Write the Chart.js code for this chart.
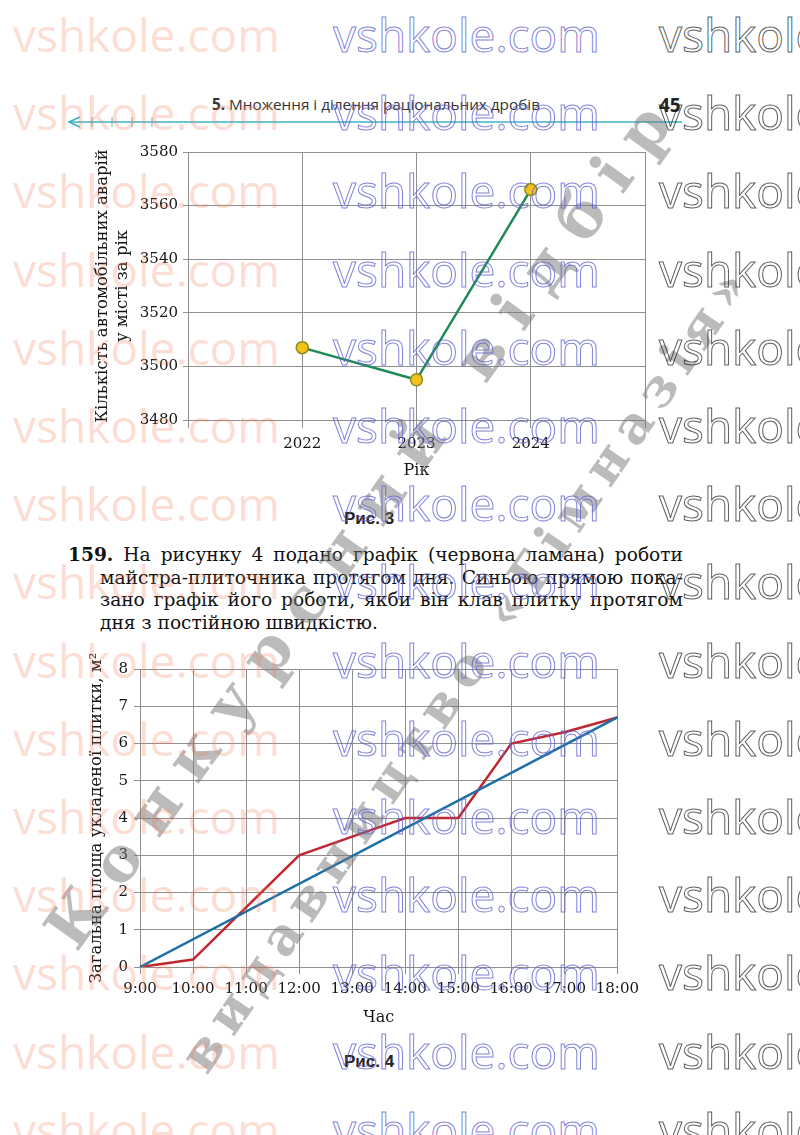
<!DOCTYPE html>
<html lang="uk">
<head>
<meta charset="utf-8">
<script src="https://cdn.jsdelivr.net/npm/chart.js@4.4.1/dist/chart.umd.min.js"></script>
<style>
html, body { margin: 0; padding: 0; background: #fff; }
body { width: 800px; height: 1135px; position: relative; overflow: hidden; font-family: "DejaVu Serif", serif; color: #111; }
.abs { position: absolute; }
#wrap1 { left: 90px; top: 130px; width: 570px; height: 350px; }
#wrap2 { left: 80px; top: 645px; width: 565px; height: 385px; }
.cap { font-family: "Liberation Sans", Arial, sans-serif; font-weight: 700; font-size: 17px; color: #222; }
#task { left: 68px; top: 544px; width: 615px; font-size: 18.6px; line-height: 22.7px; }
#task .ln { text-align: justify; text-align-last: justify; white-space: nowrap; }
#task .ind { padding-left: 32px; }
.wm { position: absolute; white-space: nowrap; font-family: "Open Sans", sans-serif; font-size: 46px; line-height: 46px; pointer-events: none; }
.wm.c0 { color: rgba(245, 125, 85, 0.26); }
.wm.c1 { color: transparent; -webkit-text-stroke: 1px rgba(100, 100, 210, 0.8); }
.wm.c2 { color: transparent; -webkit-text-stroke: 1px rgba(40, 40, 40, 0.75); }
.diag { position: absolute; white-space: nowrap; font-family: "DejaVu Serif", serif; font-weight: 700; line-height: 1; color: rgba(120, 120, 120, 0.5); transform-origin: 0 0; pointer-events: none; }
</style>
</head>
<body>

<svg class="abs" style="left:0;top:0" width="800" height="140">
  <line x1="70" y1="122" x2="682" y2="122" stroke="#3bb3c6" stroke-width="1.6"/>
  <polyline points="80,117 69,122 80,127" fill="none" stroke="#3bb3c6" stroke-width="1.6"/>
  <g stroke="#7fa9b0" stroke-width="1">
    <line x1="92" y1="117" x2="92" y2="127"/>
    <line x1="112" y1="117" x2="112" y2="127"/>
    <line x1="132" y1="117" x2="132" y2="127"/>
    <line x1="152" y1="117" x2="152" y2="127"/>
  </g>
</svg>
<div class="abs" style="left:212px;top:94px;font-family:'Open Sans',sans-serif;font-size:15.3px;color:#333"><b>5.</b> Множення і ділення раціональних дробів</div>
<div class="abs" style="left:659px;top:92px;font-family:'Open Sans',sans-serif;font-weight:700;font-size:19px;color:#222">45</div>

<div class="abs" id="wrap1"><canvas id="chart1" width="570" height="350"></canvas></div>
<div class="abs cap" style="left:344px;top:509px">Рис. 3</div>

<div class="abs" id="task">
  <div class="ln"><b>159.</b> На рисунку 4 подано графік (червона ламана) роботи</div>
  <div class="ln ind">майстра-плиточника протягом дня. Синьою прямою пока-</div>
  <div class="ln ind">зано графік його роботи, якби він клав плитку протягом</div>
  <div class="ind">дня з постійною швидкістю.</div>
</div>

<div class="abs" id="wrap2"><canvas id="chart2" width="565" height="385"></canvas></div>
<div class="abs cap" style="left:344px;top:1052px">Рис. 4</div>

<div id="marks"></div>

<script>
// Рис. 3 — аварії по роках
const years = [2022, 2023, 2024];
const accidents = [3507, 3495, 3566];
const accidentTicks = [3480, 3500, 3520, 3540, 3560, 3580];

// Рис. 4 — робота плиточника
const hours = ["9:00", "10:00", "11:00", "12:00", "13:00", "14:00", "15:00", "16:00", "17:00", "18:00"];
const tilerArea = [0, 0.2, 1.6, 3, 3.5, 4, 4, 6, 6.3, 6.7];
const steadyHours = ["9:00", "18:00"];
const steadyArea = [0, 6.7];
const areaTicks = [0, 1, 2, 3, 4, 5, 6, 7, 8];

Chart.defaults.font.family = '"DejaVu Serif", serif';
Chart.defaults.color = "#151515";
Chart.defaults.animation = false;

const gridColor = "#8f8f8f";

new Chart(document.getElementById("chart1"), {
  type: "line",
  data: {
    datasets: [{
      data: years.map((y, i) => ({ x: y, y: accidents[i] })),
      borderColor: "#1d8a58",
      borderWidth: 2.5,
      pointRadius: 6,
      pointBackgroundColor: "#f2c21b",
      pointBorderColor: "#8a8f1e",
      pointBorderWidth: 1.5,
      tension: 0
    }]
  },
  options: {
    responsive: false,
    devicePixelRatio: 1,
    layout: { padding: { top: 22, right: 15, left: 0, bottom: 0 } },
    plugins: { legend: { display: false }, tooltip: { enabled: false } },
    scales: {
      x: {
        type: "linear",
        min: years[0] - 1,
        max: years[years.length - 1] + 1,
        ticks: {
          stepSize: 1,
          autoSkip: false,
          maxRotation: 0,
          padding: 7,
          font: { size: 15 },
          callback: (v) => (years.includes(v) ? String(v) : "")
        },
        grid: { color: gridColor, tickLength: 8 },
        border: { color: gridColor },
        title: { display: true, text: "Рік", font: { size: 16 }, padding: { top: 0, bottom: 0 } },
        afterFit: (s) => { s.height = 60; }
      },
      y: {
        min: accidentTicks[0],
        max: accidentTicks[accidentTicks.length - 1],
        ticks: { stepSize: 20, padding: 5, font: { size: 15 }, callback: (v) => String(v) },
        grid: { color: gridColor, tickLength: 5 },
        border: { color: gridColor },
        title: {
          display: true,
          text: ["Кількість автомобільних аварій", "у місті за рік"],
          font: { size: 16.5 },
          padding: { top: 3, bottom: 0 }
        },
        afterFit: (s) => { s.width = 98; }
      }
    }
  }
});

new Chart(document.getElementById("chart2"), {
  type: "line",
  data: {
    labels: hours,
    datasets: [
      {
        data: steadyHours.map((h, i) => ({ x: h, y: steadyArea[i] })),
        borderColor: "#1c6fa6",
        borderWidth: 2.5,
        pointRadius: 0,
        tension: 0
      },
      {
        data: tilerArea,
        borderColor: "#c1272f",
        borderWidth: 2.5,
        pointRadius: 0,
        tension: 0
      }
    ]
  },
  options: {
    responsive: false,
    devicePixelRatio: 1,
    layout: { padding: { top: 24, right: 26, left: 0, bottom: 0 } },
    plugins: { legend: { display: false }, tooltip: { enabled: false } },
    scales: {
      x: {
        type: "category",
        offset: false,
        ticks: { autoSkip: false, maxRotation: 0, padding: 6, font: { size: 15 } },
        grid: { color: gridColor, tickLength: 7 },
        border: { color: gridColor },
        title: { display: true, text: "Час", font: { size: 16 }, padding: { top: 0, bottom: 3 } },
        afterFit: (s) => { s.height = 63; }
      },
      y: {
        min: areaTicks[0],
        max: areaTicks[areaTicks.length - 1],
        ticks: { stepSize: 1, padding: 6, font: { size: 15 } },
        grid: { color: gridColor, tickLength: 6 },
        border: { color: gridColor },
        title: {
          display: true,
          text: "Загальна площа укладеної плитки, м²",
          font: { size: 16.5 },
          padding: { top: 7, bottom: 0 }
        },
        afterFit: (s) => { s.width = 60; }
      }
    }
  }
});

// watermarks over the page
const marks = document.getElementById("marks");
const markCols = [13, 333, 659];
for (let r = 0; r < 15; r++) {
  markCols.forEach((x, c) => {
    const d = document.createElement("div");
    d.className = "wm c" + c;
    d.textContent = "vshkole.com";
    d.style.left = x + "px";
    d.style.top = (52 + r * 78.2 - 41) + "px";
    marks.appendChild(d);
  });
}

function diagonal(text, size, x0, y0, x1, y1) {
  const d = document.createElement("div");
  d.className = "diag";
  d.textContent = text;
  d.style.fontSize = size + "px";
  document.body.insertBefore(d, marks);
  const len = Math.hypot(x1 - x0, y1 - y0) + size * 0.8;
  const w = d.getBoundingClientRect().width;
  const n = [...text].length;
  d.style.letterSpacing = ((len - w) / (n - 1)) + "px";
  const ang = Math.atan2(y1 - y0, x1 - x0);
  const base = size * 0.846;
  // start point = left baseline of first letter
  const sx = x0 - Math.cos(ang) * size * 0.4 - Math.sin(ang) * size * 0.36;
  const sy = y0 - Math.sin(ang) * size * 0.4 + Math.cos(ang) * size * 0.36;
  d.style.transformOrigin = "0 " + base + "px";
  d.style.left = sx + "px";
  d.style.top = (sy - base) + "px";
  d.style.transform = "rotate(" + ang + "rad)";
}
diagonal("Конкурсний відбір", 62, 73, 920, 641, 131);
diagonal("видавництво «Гімназія»", 52, 203, 1048, 722, 292);
</script>
</body>
</html>
